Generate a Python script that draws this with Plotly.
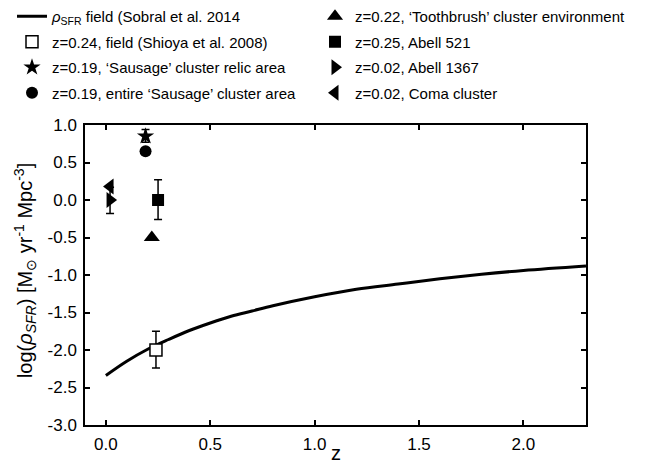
import plotly.graph_objects as go

# Sobral et al. 2014 field relation
z_curve = [0.0, 0.1, 0.2, 0.3, 0.4, 0.5, 0.6, 0.7, 0.8, 1.0, 1.2, 1.4, 1.6, 1.8, 2.0, 2.3]
sfrd_curve = [-2.34, -2.15, -1.99, -1.86, -1.74, -1.64, -1.55, -1.48, -1.41,
              -1.29, -1.19, -1.12, -1.05, -0.99, -0.94, -0.88]

# individual measurements: label, z, log(rho), err_plus, err_minus, symbol, fill, legend column
points = [
    ("z=0.24, field (Shioya et al. 2008)", 0.24, -2.00, 0.25, 0.24, "square", "white", 1),
    ("z=0.19, \u2018Sausage\u2019 cluster relic area", 0.19, 0.85, 0.09, 0.08, "star", "black", 1),
    ("z=0.19, entire \u2018Sausage\u2019 cluster area", 0.19, 0.65, 0.0, 0.0, "circle", "black", 1),
    ("z=0.22, \u2018Toothbrush\u2019 cluster environment", 0.22, -0.50, 0.0, 0.0, "triangle-up", "black", 2),
    ("z=0.25, Abell 521", 0.25, 0.00, 0.27, 0.26, "square", "black", 2),
    ("z=0.02, Abell 1367", 0.02, 0.00, 0.17, 0.18, "triangle-right", "black", 2),
    ("z=0.02, Coma cluster", 0.02, 0.18, 0.0, 0.0, "triangle-left", "black", 2),
]

x_ticks = [0.0, 0.5, 1.0, 1.5, 2.0]
x_tick_labels = ["0.0", "0.5", "1.0", "1.5", "2.0"]
y_ticks = [-3.0, -2.5, -2.0, -1.5, -1.0, -0.5, 0.0, 0.5, 1.0]
y_tick_labels = ["-3.0", "-2.5", "-2.0", "-1.5", "-1.0", "-0.5", "0.0", "0.5", "1.0"]

FONT = "Liberation Sans, Arial, Helvetica, sans-serif"

fig = go.Figure()

fig.add_trace(go.Scatter(
    x=z_curve, y=sfrd_curve, mode="lines", line=dict(color="black", width=3, shape="spline"),
    name="<i>\u03c1</i><sub>SFR</sub> field (Sobral et al. 2014",
    legend="legend", legendgroup="c"))

for i, (label, z, y, ep, em, sym, fill, col) in enumerate(points):
    size = 14 if sym.startswith("triangle") else 12
    if sym == "star":
        size = 13
    trace = go.Scatter(
        x=[z], y=[y], mode="markers", name=label,
        marker=dict(symbol=sym, size=size, color=fill,
                    line=dict(color="black", width=1.5 if fill == "white" else 0)),
        legend="legend" if col == 1 else "legend2", legendgroup="g%d" % i)
    if ep > 0:
        trace.error_y = dict(type="data", array=[ep], arrayminus=[em], color="black",
                             thickness=1.5, width=4)
    fig.add_trace(trace)

legend_style = dict(
    xref="paper", yref="paper", xanchor="left", yanchor="top",
    font=dict(family=FONT, size=15, color="black"),
    bgcolor="rgba(0,0,0,0)", tracegroupgap=3, traceorder="grouped",
    itemwidth=30)

axis_style = dict(
    showline=True, linecolor="black", linewidth=1.5, mirror="ticks",
    ticks="inside", ticklen=5, tickwidth=1.5, tickcolor="black",
    showgrid=False, zeroline=False, ticklabelstandoff=3,
    tickfont=dict(family=FONT, size=17, color="black"))

fig.update_layout(
    width=646, height=462,
    margin=dict(l=77, r=68, t=117, b=45, autoexpand=False),
    paper_bgcolor="white", plot_bgcolor="white",
    font=dict(family=FONT, size=15, color="black"),
    legend=dict(x=(4 - 77) / 501, y=(417 + 8) / 300, **legend_style),
    legend2=dict(x=(307 - 77) / 501, y=(417 + 8) / 300, **legend_style),
    xaxis=dict(range=[-0.1, 2.3], tickvals=x_ticks, ticktext=x_tick_labels, **axis_style),
    yaxis=dict(range=[-3.0, 1.0], tickvals=y_ticks, ticktext=y_tick_labels, **axis_style),
    annotations=[
        dict(text="z", xref="paper", yref="paper", x=0.5, y=-28 / 300,
             xanchor="center", yanchor="middle", showarrow=False,
             font=dict(family=FONT, size=20, color="black")),
        dict(text="log(<i>\u03c1<sub>SFR</sub></i>) [M<sub>\u2299</sub> yr<sup>-1</sup> Mpc<sup>-3</sup>]",
             xref="paper", yref="paper", x=-60 / 501, y=0.513, textangle=-90,
             xanchor="center", yanchor="middle", showarrow=False,
             font=dict(family=FONT, size=20, color="black")),
    ],
)

fig.write_html("out.html")
